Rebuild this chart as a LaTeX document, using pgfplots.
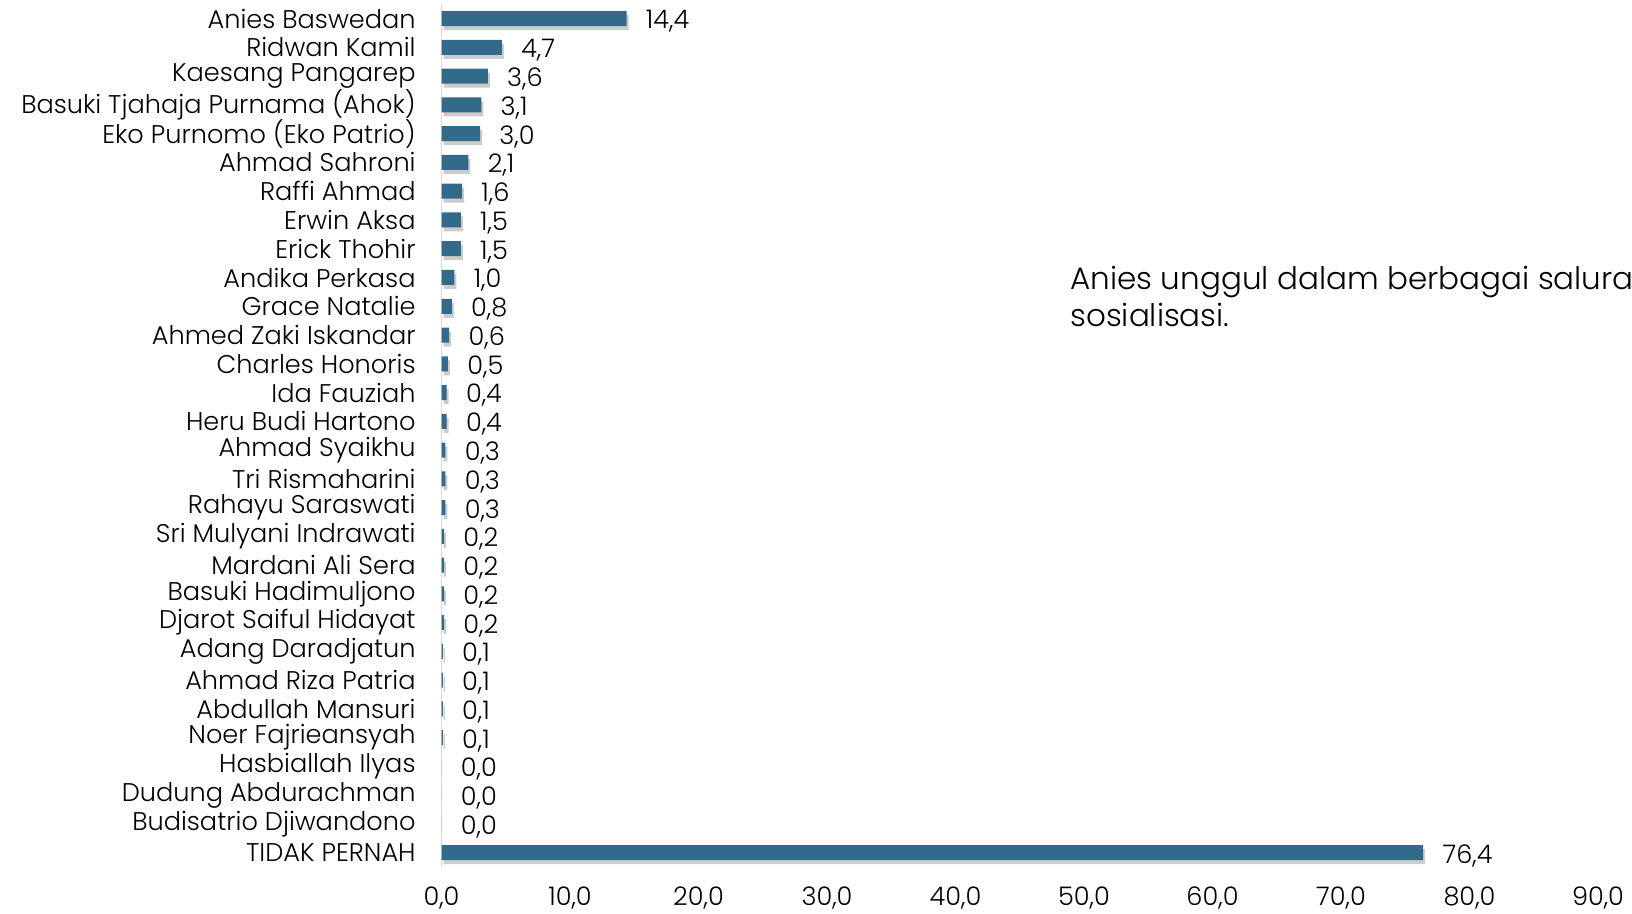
\documentclass[border=0pt]{standalone}
\usepackage{fontspec}
\setmainfont{Poppins}[UprightFont=* Light]
\usepackage{pgfplots}
\pgfplotsset{compat=1.18}
\usetikzlibrary{shadows}
\definecolor{barblue}{HTML}{336A8A}
\definecolor{axgray}{HTML}{D9D9D9}
\newcommand{\lblfont}{\fontsize{12.8bp}{15bp}\selectfont}
\begin{document}
\begin{tikzpicture}
\path[use as bounding box] (0,0) rectangle (816bp,457bp);
\clip (0,0) rectangle (816bp,457bp);
\begin{axis}[
  at={(220.75bp,23.5bp)}, anchor=south west,
  scale only axis, width=578.25bp, height=431.35bp,
  xmin=0, xmax=90, ymin=-0.5, ymax=29.5, y dir=reverse,
  xbar, bar width=7.5bp,
  axis lines=left,
  axis line style={-},
  x axis line style={draw=none},
  y axis line style={draw=axgray, line width=0.8bp},
  major tick length=0pt,
  xtick={0,10,...,90},
  ytick={0,...,29},
  yticklabels={Anies Baswedan,Ridwan Kamil,Kaesang Pangarep,Basuki Tjahaja Purnama (Ahok),Eko Purnomo (Eko Patrio),Ahmad Sahroni,Raffi Ahmad,Erwin Aksa,Erick Thohir,Andika Perkasa,Grace Natalie,Ahmed Zaki Iskandar,Charles Honoris,Ida Fauziah,Heru Budi Hartono,Ahmad Syaikhu,Tri Rismaharini,Rahayu Saraswati,Sri Mulyani Indrawati,Mardani Ali Sera,Basuki Hadimuljono,Djarot Saiful Hidayat,Adang Daradjatun,Ahmad Riza Patria,Abdullah Mansuri,Noer Fajrieansyah,Hasbiallah Ilyas,Dudung Abdurachman,Budisatrio Djiwandono,TIDAK PERNAH},
  yticklabel style={font=\lblfont, anchor=east, inner sep=0pt, xshift=-12.75bp},
  xticklabel style={font=\lblfont, anchor=center, inner sep=0pt, yshift=-15.5bp},
  /pgf/number format/.cd, fixed, fixed zerofill, precision=1, use comma, assume math mode=true,
  /pgfplots/.cd,
  point meta=x,
  nodes near coords,
  every node near coord/.append style={font=\lblfont, anchor=west, inner sep=0pt, xshift=9.5bp, yshift=-1.5bp, text=black},
  clip=false,
]
\addplot[fill=barblue, draw=none, drop shadow={shadow xshift=1bp, shadow yshift=-2bp, opacity=0.4}] coordinates {
(14.4,0) (4.7,1) (3.6,2) (3.1,3) (3.0,4) (2.1,5) (1.6,6) (1.5,7) (1.5,8) (1.0,9)
(0.8,10) (0.6,11) (0.5,12) (0.4,13) (0.4,14) (0.3,15) (0.3,16) (0.3,17) (0.2,18) (0.2,19)
(0.2,20) (0.2,21) (0.1,22) (0.1,23) (0.1,24) (0.1,25) (0.0,26) (0.0,27) (0.0,28) (76.4,29)
};
\end{axis}
\node[anchor=base west, align=left, inner sep=0pt, font=\fontsize{15.5bp}{18.5bp}\selectfont] at (535bp,293.5bp) {Anies unggul dalam berbagai saluran\\sosialisasi.};
\end{tikzpicture}
\end{document}
